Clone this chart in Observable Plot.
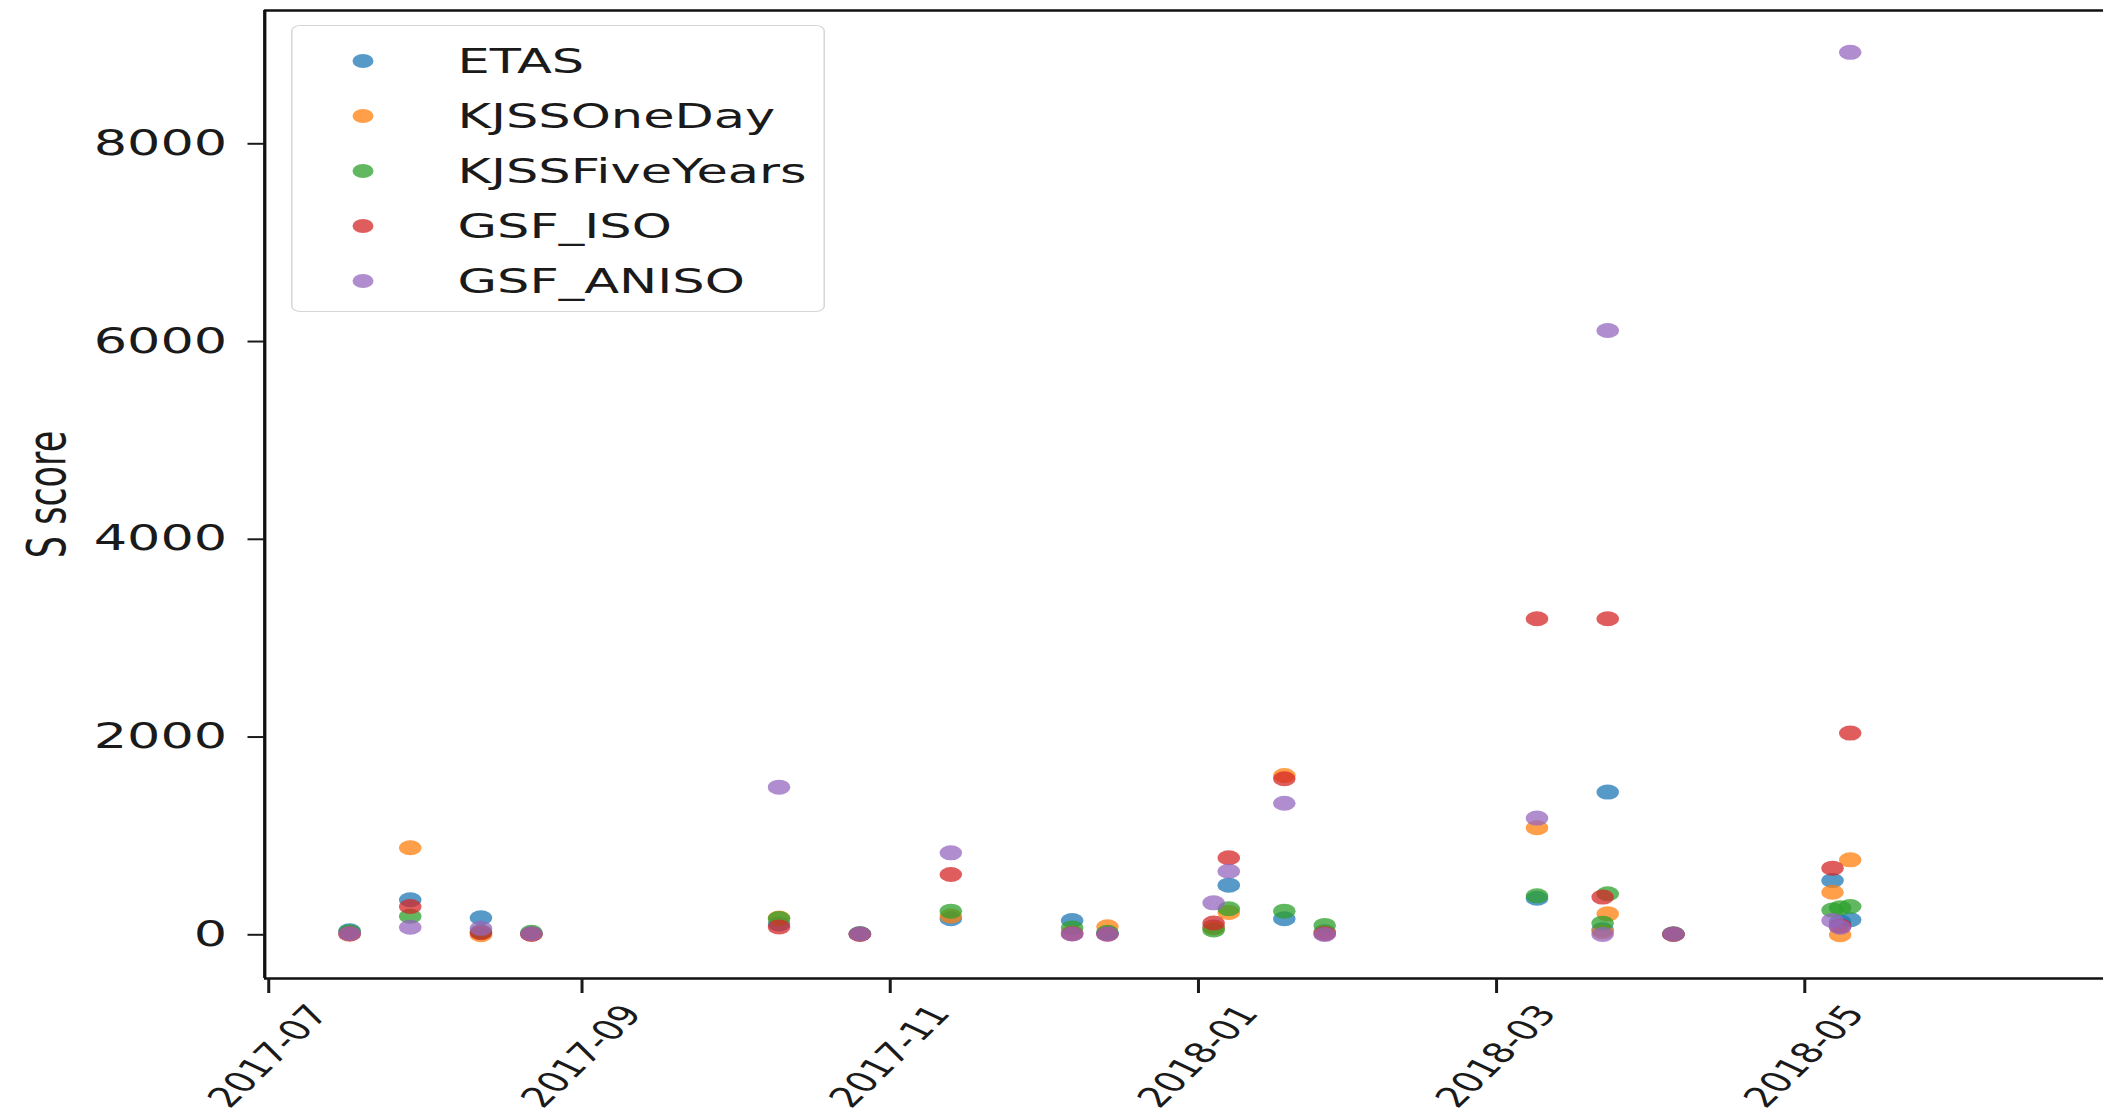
<!DOCTYPE html>
<html>
<head>
<meta charset="utf-8">
<script src="https://cdn.jsdelivr.net/npm/d3@7"></script>
<script src="https://cdn.jsdelivr.net/npm/@observablehq/plot@0.6"></script>
<style>
  html, body { margin: 0; padding: 0; background: #fff; }
  #wrap { position: relative; width: 1402px; height: 1110px; transform: scale(1.5, 1); transform-origin: 0 0; }
  #chart svg { display: block; }
  #legend { position: absolute; left: 194px; top: 25px; width: 356px; height: 287px; box-sizing: border-box;
            border: 1.5px solid #d6d6d6; border-radius: 6px; background: rgba(255,255,255,0.8);
            font-family: "DejaVu Sans"; font-size: 34px; color: #1a1a1a; }
  .row { position: absolute; left: 0; height: 0; width: 100%; }
  .mk { position: absolute; width: 14px; height: 14px; border-radius: 50%; left: 40px; top: -7px; opacity: 0.75; }
  .lb { position: absolute; left: 110px; top: 0; transform: translateY(-50%); line-height: 1; white-space: nowrap; }
</style>
</head>
<body>
<div id="wrap"><div id="chart"></div><div id="legend"></div></div>
<script>
// ---- data ----
const series = ["ETAS", "KJSSOneDay", "KJSSFiveYears", "GSF_ISO", "GSF_ANISO"];
const colors = ["#1f77b4", "#ff7f0e", "#2ca02c", "#d62728", "#9467bd"];
const dates = [
  "2017-07-17", "2017-07-29", "2017-08-12", "2017-08-22", "2017-10-10",
  "2017-10-26", "2017-11-13", "2017-12-07", "2017-12-14", "2018-01-04",
  "2018-01-07", "2018-01-18", "2018-01-26", "2018-03-09", "2018-03-22",
  "2018-03-23", "2018-04-05", "2018-05-06T12:00Z", "2018-05-08", "2018-05-10"
];
const etas          = [40, 354, 172, 10, 110, 10, 162, 145, 15, 80, 502, 162, 30, 370, 50, 1443, 5, 549, 130, 152];
const kjssOneDay    = [5, 880, 0, 5, 170, 5, 190, 20, 82, 70, 225, 1611, 20, 1082, 30, 212, 5, 431, 0, 758];
const kjssFiveYears = [30, 188, 30, 25, 165, 10, 239, 70, 25, 48, 263, 239, 95, 394, 118, 415, 10, 250, 273, 286];
const gsfIso        = [10, 286, 20, 5, 80, 5, 610, 10, 5, 120, 779, 1578, 10, 3196, 381, 3196, 5, 674, 90, 2040];
const gsfAniso      = [10, 77, 65, 10, 1493, 8, 829, 8, 8, 323, 642, 1331, 3, 1180, 3, 6111, 8, 145, 77, 8925];
const yTicks = [0, 2000, 4000, 6000, 8000];
const xTickLabels = ["2017-07", "2017-09", "2017-11", "2018-01", "2018-03", "2018-05"];
const yLabel = "S score";

// ---- build table ----
const valuesBySeries = [etas, kjssOneDay, kjssFiveYears, gsfIso, gsfAniso];
const data = series.flatMap((s, i) => dates.map((d, j) => ({
  series: s, date: new Date(d), value: valuesBySeries[i][j]
})));
const xTicks = xTickLabels.map(t => new Date(t + "-01T00:00Z"));
const xDomain = [new Date("2017-06-30T05:00Z"), new Date("2018-06-29T04:00Z")];
const yDomain = [-442, 9348];

const chart = Plot.plot({
  width: 1402,
  height: 1110,
  marginLeft: 176,
  marginRight: 0,
  marginTop: 10,
  marginBottom: 132,
  style: { fontFamily: "DejaVu Sans", fontSize: "33px", color: "#1a1a1a", background: "transparent", overflow: "visible" },
  x: { type: "utc", domain: xDomain },
  y: { domain: yDomain },
  color: { domain: series, range: colors },
  marks: [
    Plot.ruleY([yDomain[1]], { stroke: "#111", strokeWidth: 2.4 }),
    Plot.ruleY([yDomain[0]], { stroke: "#111", strokeWidth: 2.4 }),
    Plot.ruleX([xDomain[0]], { stroke: "#111", strokeWidth: 2.2 }),
    Plot.axisY({ ticks: yTicks, tickFormat: d => String(d), tickSize: 11, tickPadding: 14, strokeWidth: 2, label: null, fontSize: 35 }),
    Plot.axisX({ ticks: xTicks, tickFormat: d3.utcFormat("%Y-%m"), tickSize: 15, tickPadding: 63, tickRotate: -55,
                 textAnchor: "middle", lineAnchor: "middle", strokeWidth: 2, label: null, fontSize: 28 }),
    Plot.text([yLabel], { frameAnchor: "left", rotate: -90, dx: -158, textAnchor: "middle", lineAnchor: "top", fontSize: 35, fill: "#1a1a1a" }),
    Plot.dot(data, { x: "date", y: "value", fill: "series", r: 7.5, fillOpacity: 0.75 })
  ]
});
document.getElementById("chart").appendChild(chart);

// ---- legend ----
const legend = document.getElementById("legend");
const rowY = [35, 90, 145, 200, 255];
series.forEach((s, i) => {
  const row = document.createElement("div");
  row.className = "row";
  row.style.top = rowY[i] + "px";
  const mk = document.createElement("span");
  mk.className = "mk";
  mk.style.background = colors[i];
  const lb = document.createElement("span");
  lb.className = "lb";
  lb.textContent = s;
  row.appendChild(mk);
  row.appendChild(lb);
  legend.appendChild(row);
});
</script>
</body>
</html>
